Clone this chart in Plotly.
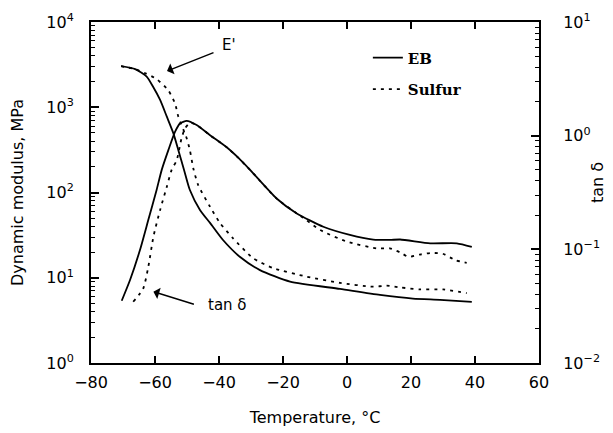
import plotly.graph_objects as go

# ---- data ----
eb_E_T = [-70.6, -66.2, -62.6, -60.6, -58.4, -56.3, -54.3, -52.7, -50.9, -49.1, -45.9, -42.8,
          -38.75, -33.4, -27.2, -17.8, -2.2, 10.3, 20.6, 29.1, 39]
eb_E = [3030, 2800, 2290, 1740, 1220, 775, 500, 314, 183, 107, 62, 44,
        27.7, 17.5, 12.3, 9.0, 7.4, 6.3, 5.7, 5.5, 5.2]

s_E_T = [-70.6, -66.2, -63, -59.5, -55.9, -53.75, -52.7, -50.1, -49.1, -48, -46.5, -42.8,
         -39.7, -35.6, -29.4, -23.1, -12.6, -2.2, 8.2, 12.4, 16.6, 22.8, 30, 37.4]
s_E = [3030, 2800, 2500, 2140, 1590, 1110, 775, 433, 314, 190, 122, 68,
       44, 29, 17, 13, 10.3, 8.7, 7.85, 8.07, 7.7, 7.3, 7.3, 6.6]

eb_tan_T = [-70.4, -67.8, -64.7, -62.1, -59.5, -57.9, -55.8, -53.75, -52.2, -50.1, -47, -42.8,
            -37.6, -34, -30.3, -22, -15.7, -7.4, 0.9, 8.2, 13.4, 16.6, 26, 34.3, 39]
eb_tan = [0.0353, 0.0537, 0.0986, 0.181, 0.333, 0.50, 0.75, 1.08, 1.28, 1.35, 1.24, 1.01,
          0.79, 0.64, 0.50, 0.28, 0.207, 0.158, 0.134, 0.122, 0.121, 0.122, 0.113, 0.113, 0.105]

s_tan_T = [-66.8, -63.7, -62.1, -60.5, -58.4, -56.3, -54.8, -53.2, -51.7, -50.6, -49, -47,
           -42.8, -37.6, -34, -30.3, -22, -15.7, -12.6, -8.4, -0.1, 9.3, 13.4, 16.6, 19.2,
           22.8, 26.5, 30.1, 33.75, 37.4]
s_tan = [0.0346, 0.045, 0.070, 0.129, 0.222, 0.356, 0.50, 0.61, 0.95, 1.16, 1.3, 1.24,
         1.01, 0.79, 0.64, 0.50, 0.28, 0.207, 0.18, 0.148, 0.117, 0.102, 0.102, 0.094, 0.086,
         0.090, 0.093, 0.091, 0.0805, 0.076]

x_ticks = [-80, -60, -40, -20, 0, 20, 40, 60]
x_labels = ["\u221280", "\u221260", "\u221240", "\u221220", "0", "20", "40", "60"]
yl_ticks = [1, 10, 100, 1000, 10000]
yl_labels = ["10<sup>0</sup>", "10<sup>1</sup>", "10<sup>2</sup>", "10<sup>3</sup>", "10<sup>4</sup>"]
yr_ticks = [0.01, 0.1, 1, 10]
yr_labels = ["10<sup>\u22122</sup>", "10<sup>\u22121</sup>", "10<sup>0</sup>", "10<sup>1</sup>"]
yl_minor = [m * 10 ** d for d in range(0, 4) for m in range(2, 10)]
yr_minor = [m * 10 ** d for d in range(-2, 1) for m in range(2, 10)]

BLK = "black"
solid = dict(color=BLK, width=1.8, shape="spline", smoothing=0.6)
dotted = dict(color=BLK, width=1.8, dash="3px,5px", shape="spline", smoothing=0.6)

fig = go.Figure()
fig.add_trace(go.Scatter(x=eb_E_T, y=eb_E, mode="lines", line=solid, name="EB",
                         legendgroup="EB", showlegend=True))
fig.add_trace(go.Scatter(x=s_E_T, y=s_E, mode="lines", line=dotted, name="Sulfur",
                         legendgroup="S", showlegend=True))
fig.add_trace(go.Scatter(x=eb_tan_T, y=eb_tan, mode="lines", line=solid, name="EB",
                         legendgroup="EB", showlegend=False, yaxis="y2"))
fig.add_trace(go.Scatter(x=s_tan_T, y=s_tan, mode="lines", line=dotted, name="Sulfur",
                         legendgroup="S", showlegend=False, yaxis="y2"))

tickfont = dict(family="DejaVu Sans", size=16, color=BLK)
titlefont = dict(family="DejaVu Sans", size=16, color=BLK)

# the page body adds an 8px offset; margins compensate so the plot area
# lands at x 91..539, y 22..363 in the window
ML, MR, MT, MB = 83, 82, 14, 78
PW, PH = 613 - ML - MR, 433 - MT - MB

fig.update_layout(
    width=613, height=433,
    margin=dict(l=ML, r=MR, t=MT, b=MB),
    paper_bgcolor="white", plot_bgcolor="white",
    showlegend=True,
    legend=dict(x=0.618, y=0.943, xanchor="left", yanchor="top",
                bgcolor="rgba(0,0,0,0)", traceorder="grouped", tracegroupgap=9,
                font=dict(family="DejaVu Serif", size=15, color=BLK, weight="bold")),
    xaxis=dict(range=[-80, 60], tickvals=x_ticks, ticktext=x_labels, automargin=False,
               ticks="inside", ticklen=7, tickwidth=1.5, tickcolor=BLK,
               showline=True, linecolor=BLK, linewidth=2, mirror="ticks",
               showgrid=False, zeroline=False, tickfont=tickfont, ticklabelstandoff=4,
               title=dict(text="Temperature, \u00b0C", font=titlefont, standoff=21)),
    yaxis=dict(type="log", range=[0, 4], tickvals=yl_ticks, ticktext=yl_labels, automargin=False,
               ticks="inside", ticklen=8, tickwidth=1.5, tickcolor=BLK,
               minor=dict(ticks="inside", ticklen=4, tickwidth=1, tickcolor=BLK,
                          tickmode="array", tickvals=yl_minor, showgrid=False),
               showline=True, linecolor=BLK, linewidth=2,
               showgrid=False, zeroline=False, tickfont=tickfont, ticklabelstandoff=12,
               title=dict(text="Dynamic modulus, MPa", font=titlefont, standoff=21)),
    yaxis2=dict(type="log", range=[-2, 1], overlaying="y", side="right", automargin=False,
                tickvals=yr_ticks, ticktext=yr_labels,
                ticks="inside", ticklen=8, tickwidth=1.5, tickcolor=BLK,
                minor=dict(ticks="inside", ticklen=4, tickwidth=1, tickcolor=BLK,
                           tickmode="array", tickvals=yr_minor, showgrid=False),
                showline=True, linecolor=BLK, linewidth=2,
                showgrid=False, zeroline=False, tickfont=tickfont, ticklabelstandoff=19),
)

# right-axis title placed as in the reference (between the tick labels)
fig.add_annotation(x=(589 - ML) / PW, y=(433 - MB - 175) / PH, xref="paper", yref="paper",
                   xanchor="center", yanchor="middle",
                   text="tan \u03b4", textangle=-90, showarrow=False,
                   font=titlefont)

# E' arrow and label
fig.add_annotation(x=-56.25, y=3.425, xref="x", yref="y", text="", showarrow=True,
                   ax=48, ay=-19, arrowhead=1, arrowsize=1.3, arrowwidth=1.5, arrowcolor=BLK)
fig.add_annotation(x=-36.9, y=3.73, xref="x", yref="y", text="E'", showarrow=False,
                   font=dict(family="DejaVu Sans", size=15, color=BLK))
# tan delta arrow and label
fig.add_annotation(x=-60.5, y=-1.373, xref="x", yref="y2", text="", showarrow=True,
                   ax=42, ay=13, arrowhead=1, arrowsize=1.3, arrowwidth=1.5, arrowcolor=BLK)
fig.add_annotation(x=-37.2, y=0.68, xref="x", yref="y", text="tan \u03b4", showarrow=False,
                   font=dict(family="DejaVu Sans", size=15, color=BLK))

fig.write_html("out.html")
